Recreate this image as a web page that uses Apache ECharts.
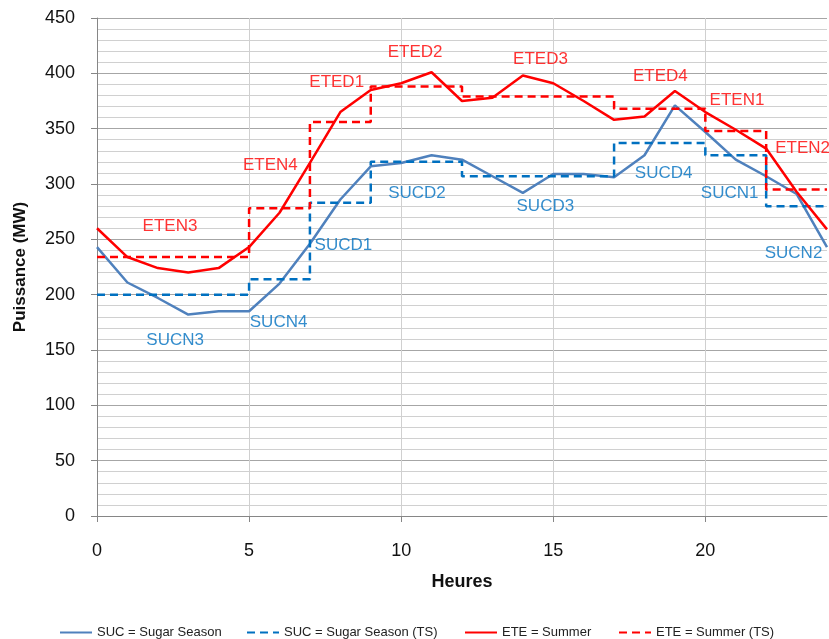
<!DOCTYPE html>
<html>
<head>
<meta charset="utf-8">
<script src="https://cdn.jsdelivr.net/npm/echarts@6/dist/echarts.min.js"></script>
<style>html,body{margin:0;padding:0;background:#fff}#c{width:829px;height:639px}</style>
</head>
<body>
<div id="c"></div>
<script>
// Hours 0..24
const hours = [0,1,2,3,4,5,6,7,8,9,10,11,12,13,14,15,16,17,18,19,20,21,22,23,24];
// SUC = Sugar Season
const sucValues = [243,211,197,182,185,185,210,246,286,316,319,326,322,307,292,309,309,306,326,371,347,322,307,291,243];
// ETE = Summer
const eteValues = [260,234,224,220,224,243,274,319,365,385,391,401,375,378,398,391,375,358,361,384,365,349,332,293,259];
// Time-slice (TS) step breakpoints and levels
const tsBreaks = [0,5,7,9,12,17,20,22,24];
const sucTS = [200,214,283,320,307,337,326,280,280];
const eteTS = [234,278,356,388,379,368,348,295,295];
// Annotations
const noteNames = ['ETEN3','ETEN4','ETED1','ETED2','ETED3','ETED4','ETEN1','ETEN2','SUCN3','SUCN4','SUCD1','SUCD2','SUCD3','SUCD4','SUCN1','SUCN2'];
const noteX = [2.4,5.7,7.88,10.46,14.58,18.52,21.04,23.2,2.57,5.97,8.1,10.52,14.74,18.63,20.8,22.9];
const noteY = [262,317,392,419,413,397,376,332,159,175,245,292,280,310,292,237];
// Axis tick labels
const xTickLabels = [0,5,10,15,20];
const yMax = 450, yInterval = 50;

const C_SUC = '#4F81BD', C_SUCTS = '#0070C0', C_ETE = '#FF0000';
const FONT = 'Liberation Sans';
const pair = (xs, ys) => xs.map((x, i) => [x, ys[i]]);

const chart = echarts.init(document.getElementById('c'));
const legendCommon = {top: 621, itemWidth: 32, itemHeight: 12, itemStyle: {opacity: 0},
  textStyle: {fontFamily: FONT, fontSize: 13, color: '#222'}};
chart.setOption({
  animation: false,
  backgroundColor: '#fff',
  grid: {left: 97, right: 2, top: 18, bottom: 123, containLabel: false, outerBoundsMode: 'none'},
  legend: [
    Object.assign({left: 54, data: ['SUC = Sugar Season']}, legendCommon),
    Object.assign({left: 241, data: ['SUC = Sugar Season (TS)']}, legendCommon),
    Object.assign({left: 459, data: ['ETE = Summer']}, legendCommon),
    Object.assign({left: 613, data: ['ETE = Summer (TS)']}, legendCommon)
  ],
  xAxis: {
    type: 'value', min: 0, max: 24, interval: 1,
    name: 'Heures', nameLocation: 'middle', nameGap: 57,
    nameTextStyle: {fontFamily: FONT, fontSize: 18, fontWeight: 'bold', color: '#111'},
    axisLine: {show: true, lineStyle: {color: '#868686', width: 1}},
    axisTick: {show: true, length: 6, customValues: xTickLabels, lineStyle: {color: '#868686'}},
    axisLabel: {customValues: xTickLabels, margin: 26, fontFamily: FONT, fontSize: 18, color: '#111'},
    splitLine: {show: true, lineStyle: {color: ['#a6a6a6','#d0d0d0','#d0d0d0','#d0d0d0','#d0d0d0'], width: 1}}
  },
  yAxis: {
    type: 'value', min: 0, max: yMax, interval: yInterval,
    name: 'Puissance (MW)', nameLocation: 'middle', nameGap: 68,
    nameTextStyle: {fontFamily: FONT, fontSize: 17, fontWeight: 'bold', color: '#111'},
    axisLine: {show: true, lineStyle: {color: '#868686', width: 1}},
    axisTick: {show: true, length: 6, lineStyle: {color: '#868686'}},
    axisLabel: {margin: 22, fontFamily: FONT, fontSize: 18, color: '#111'},
    splitLine: {show: true, lineStyle: {color: '#a6a6a6', width: 1}},
    minorTick: {show: false, splitNumber: 5},
    minorSplitLine: {show: true, lineStyle: {color: '#d0d0d0', width: 1}}
  },
  series: [
    {name: 'SUC = Sugar Season', type: 'line', data: pair(hours, sucValues), symbol: 'none',
     lineStyle: {color: C_SUC, width: 2.5}, itemStyle: {color: C_SUC}, z: 3},
    {name: 'SUC = Sugar Season (TS)', type: 'line', step: 'end', data: pair(tsBreaks, sucTS), symbol: 'none',
     lineStyle: {color: C_SUCTS, width: 2.5, type: [8,5]}, itemStyle: {color: C_SUCTS}, z: 3},
    {name: 'ETE = Summer', type: 'line', data: pair(hours, eteValues), symbol: 'none',
     lineStyle: {color: C_ETE, width: 2.5}, itemStyle: {color: C_ETE}, z: 4},
    {name: 'ETE = Summer (TS)', type: 'line', step: 'end', data: pair(tsBreaks, eteTS), symbol: 'none',
     lineStyle: {color: C_ETE, width: 2.5, type: [8,5]}, itemStyle: {color: C_ETE}, z: 4},
    {name: 'notes', type: 'scatter', symbolSize: 0, silent: true, z: 5,
     data: noteNames.map((n, i) => ({name: n, value: [noteX[i], noteY[i]],
       label: {color: n.startsWith('ETE') ? C_ETE : C_SUCTS}})),
     label: {show: true, position: 'inside', formatter: p => p.name, fontFamily: FONT, fontSize: 17,
       align: 'center', verticalAlign: 'middle'}}
  ]
});
</script>
</body>
</html>
